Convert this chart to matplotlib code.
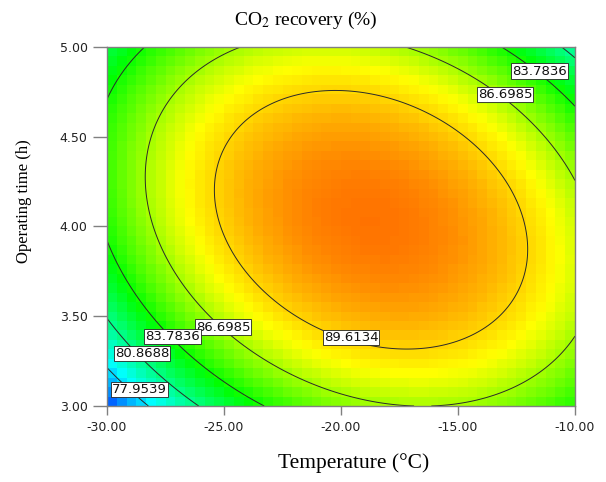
import numpy as np
import matplotlib
matplotlib.use("Agg")
import matplotlib.pyplot as plt
from matplotlib.colors import LinearSegmentedColormap, Normalize

# quadratic model in coded units: A = (T + 20) / 10, B = t - 4
coef_names = ["Intercept", "A", "B", "AB", "A^2", "B^2"]
coefs = [92.1925, 1.7365, 0.7606, -2.7112, -6.3688, -5.5012]

levels = [77.9539, 80.8688, 83.7836, 86.6985, 89.6134]

# contour label positions (temperature, time) and their level
label_T = [-11.50, -12.99, -25.04, -27.20, -28.50, -28.60, -19.57]
label_t = [4.866, 4.735, 3.440, 3.385, 3.290, 3.090, 3.380]
label_val = [83.7836, 86.6985, 86.6985, 83.7836, 80.8688, 77.9539, 89.6134]

x_ticks = [-30, -25, -20, -15, -10]
y_ticks = [3.0, 3.5, 4.0, 4.5, 5.0]

color_vals = [74.0, 78.5, 83.5, 88.5, 95.5]
color_list = ["#0000ff", "#00ffff", "#00ff00", "#ffff00", "#ff0000"]


def recovery(T, t):
    a = (T + 20) / 10
    b = t - 4
    return (coefs[0] + coefs[1] * a + coefs[2] * b + coefs[3] * a * b
            + coefs[4] * a * a + coefs[5] * b * b)


vmin, vmax = color_vals[0], color_vals[-1]
nodes = [(v - vmin) / (vmax - vmin) for v in color_vals]
cmap = LinearSegmentedColormap.from_list("dx", list(zip(nodes, color_list)))

fig = plt.figure(figsize=(6.06, 4.82), dpi=100)
ax = fig.add_axes([0.1766, 0.1577, 0.7722, 0.7448])

# blocky colour grid like Design-Expert
xe = np.linspace(-30, -10, 49)
ye = np.linspace(3, 5, 39)
xc = (xe[:-1] + xe[1:]) / 2
yc = (ye[:-1] + ye[1:]) / 2
XC, YC = np.meshgrid(xc, yc)
ax.pcolormesh(xe, ye, recovery(XC, YC), cmap=cmap,
              norm=Normalize(vmin, vmax), shading="flat")

# smooth contour lines
T = np.linspace(-30, -10, 300)
t = np.linspace(3, 5, 300)
TT, tt = np.meshgrid(T, t)
ax.contour(TT, tt, recovery(TT, tt), levels=levels, colors="#2a2a2a",
           linewidths=0.7)

for x, y, v in zip(label_T, label_t, label_val):
    ax.text(x, y, f"{v:.4f}", ha="center", va="center", fontsize=9.5,
            family="DejaVu Sans", color="#111111",
            bbox=dict(facecolor="white", edgecolor="#222222", lw=0.6,
                      boxstyle="square,pad=0.08"))

ax.set_xlim(-30, -10)
ax.set_ylim(3, 5)
ax.set_xticks(x_ticks)
ax.set_yticks(y_ticks)
ax.set_xticklabels([f"{v:.2f}" for v in x_ticks])
ax.set_yticklabels([f"{v:.2f}" for v in y_ticks])
ax.tick_params(axis="both", colors="#808080", labelcolor="#222222",
               labelsize=9, width=1)
ax.tick_params(axis="x", length=6.5, pad=4)
ax.tick_params(axis="y", length=10, pad=4)
for lab in ax.get_xticklabels() + ax.get_yticklabels():
    lab.set_family("DejaVu Sans")
for sp in ax.spines.values():
    sp.set_color("#808080")
    sp.set_linewidth(1)

plt.rcParams["mathtext.fontset"] = "stix"
fig.text(306 / 606, 1 - 20 / 482, "CO$_2$ recovery (%)", ha="center",
         va="center", fontsize=14, family="Liberation Serif")
fig.text(354 / 606, 1 - 463 / 482, "Temperature (°C)", ha="center",
         va="center", fontsize=15.5, family="Liberation Serif")
fig.text(24 / 606, 1 - 201 / 482, "Operating time (h)", ha="center",
         va="center", rotation=90, fontsize=12, family="Liberation Serif")

fig.savefig("out.png", dpi=100)
